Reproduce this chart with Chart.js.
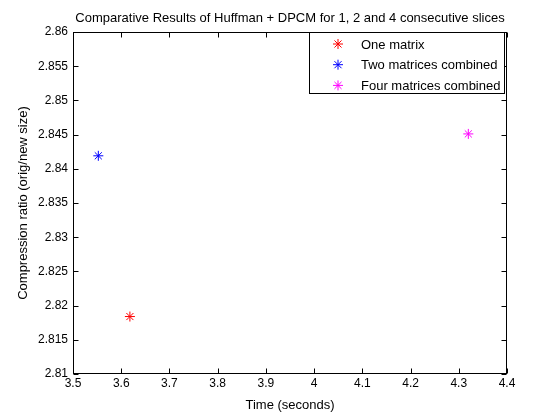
<!DOCTYPE html>
<html>
<head>
<meta charset="utf-8">
<script src="https://cdn.jsdelivr.net/npm/chart.js@4/dist/chart.umd.min.js"></script>
<style>
html,body{margin:0;padding:0;background:#fff;}
#wrap{width:560px;height:420px;position:relative;}
</style>
</head>
<body>
<div id="wrap"><canvas id="c" width="560" height="420"></canvas></div>
<script>
// ---- data ----
const seriesNames = ['One matrix', 'Two matrices combined', 'Four matrices combined'];
const timeSeconds = [3.618, 3.5525, 4.3198];
const compressionRatio = [2.8184, 2.8419, 2.8451];
const seriesColors = ['#ff0000', '#0000ff', '#ff00ff'];
const xTicks = [3.5, 3.6, 3.7, 3.8, 3.9, 4.0, 4.1, 4.2, 4.3, 4.4];
const xTickLabels = ['3.5', '3.6', '3.7', '3.8', '3.9', '4', '4.1', '4.2', '4.3', '4.4'];
const yTicks = [2.81, 2.815, 2.82, 2.825, 2.83, 2.835, 2.84, 2.845, 2.85, 2.855, 2.86];
const yTickLabels = ['2.81', '2.815', '2.82', '2.825', '2.83', '2.835', '2.84', '2.845', '2.85', '2.855', '2.86'];
const chartTitle = 'Comparative Results of Huffman + DPCM for 1, 2 and 4 consecutive slices';
const xTitle = 'Time (seconds)';
const yTitle = 'Compression ratio (orig/new size)';

const FONT = '"Liberation Sans", Arial, Helvetica, sans-serif';
const FS = 13;
const TFS = 12;
const MARK_R = 5;

const datasets = seriesNames.map((name, i) => ({
  label: name,
  data: [{ x: timeSeconds[i], y: compressionRatio[i] }],
  pointStyle: 'star',
  radius: MARK_R,
  borderWidth: 1,
  borderColor: seriesColors[i],
  backgroundColor: seriesColors[i],
  showLine: false
}));

const matlabPlugin = {
  id: 'matlab',
  afterDraw(chart) {
    const ctx = chart.ctx;
    const a = chart.chartArea;
    const xs = chart.scales.x, ys = chart.scales.y;
    ctx.save();
    ctx.strokeStyle = '#000';
    ctx.lineWidth = 1;
    const L = Math.round(a.left) + 0.5, R = Math.round(a.right) - 0.5;
    const T = Math.round(a.top) + 0.5, B = Math.round(a.bottom) - 0.5;
    ctx.strokeRect(L, T, R - L, B - T);
    const tl = 5;
    ctx.beginPath();
    xs.ticks.forEach(t => {
      const px = Math.round(xs.getPixelForValue(t.value)) + 0.5;
      ctx.moveTo(px, B); ctx.lineTo(px, B - tl);
      ctx.moveTo(px, T); ctx.lineTo(px, T + tl);
    });
    ys.ticks.forEach(t => {
      const py = Math.round(ys.getPixelForValue(t.value)) + 0.5;
      ctx.moveTo(L, py); ctx.lineTo(L + tl, py);
      ctx.moveTo(R, py); ctx.lineTo(R - tl, py);
    });
    ctx.stroke();
    // titles
    ctx.fillStyle = '#000';
    ctx.font = FS + 'px ' + FONT;
    ctx.textAlign = 'center';
    ctx.textBaseline = 'alphabetic';
    ctx.fillText(chartTitle, (a.left + a.right) / 2, 22);
    ctx.fillText(xTitle, (a.left + a.right) / 2, 409);
    ctx.save();
    ctx.translate(27, (a.top + a.bottom) / 2);
    ctx.rotate(-Math.PI / 2);
    ctx.fillText(yTitle, 0, 0);
    ctx.restore();
    // legend
    const lx = 309.5, ly = T, lw = 195, lh = 61;
    ctx.fillStyle = '#fff';
    ctx.fillRect(lx, ly, lw, lh);
    ctx.strokeStyle = '#000';
    ctx.strokeRect(lx, ly, lw, lh);
    ctx.textAlign = 'left';
    ctx.textBaseline = 'middle';
    chart.data.datasets.forEach((ds, i) => {
      const cy = 44 + i * 20.7;
      ctx.save();
      ctx.strokeStyle = ds.borderColor;
      ctx.fillStyle = ds.backgroundColor;
      ctx.lineWidth = 1;
      Chart.helpers.drawPoint(ctx, { pointStyle: 'star', radius: MARK_R, borderWidth: 1 }, 338, cy);
      ctx.restore();
      ctx.fillStyle = '#000';
      ctx.fillText(ds.label, 361, cy + 1);
    });
    ctx.restore();
  }
};

new Chart(document.getElementById('c'), {
  type: 'scatter',
  data: { datasets },
  options: {
    responsive: false,
    animation: false,
    devicePixelRatio: 1,
    layout: { padding: { left: 0, top: 32, right: 53, bottom: 0 } },
    plugins: { legend: { display: false }, tooltip: { enabled: false }, title: { display: false } },
    scales: {
      x: {
        type: 'linear', min: 3.5, max: 4.4,
        afterBuildTicks: s => { s.ticks = xTicks.map(v => ({ value: v })); },
        afterFit: s => { s.height = 46; },
        ticks: {
          autoSkip: false, maxRotation: 0, padding: 2, color: '#000',
          font: { family: FONT, size: TFS },
          callback: (v, i) => xTickLabels[i]
        },
        grid: { display: false, drawTicks: false },
        border: { display: false }
      },
      y: {
        type: 'linear', min: 2.81, max: 2.86,
        afterBuildTicks: s => { s.ticks = yTicks.map(v => ({ value: v })); },
        afterFit: s => { s.width = 73; },
        ticks: {
          autoSkip: false, padding: 5, color: '#000',
          font: { family: FONT, size: TFS },
          callback: (v, i) => yTickLabels[i]
        },
        grid: { display: false, drawTicks: false },
        border: { display: false }
      }
    }
  },
  plugins: [matlabPlugin]
});
</script>
</body>
</html>
